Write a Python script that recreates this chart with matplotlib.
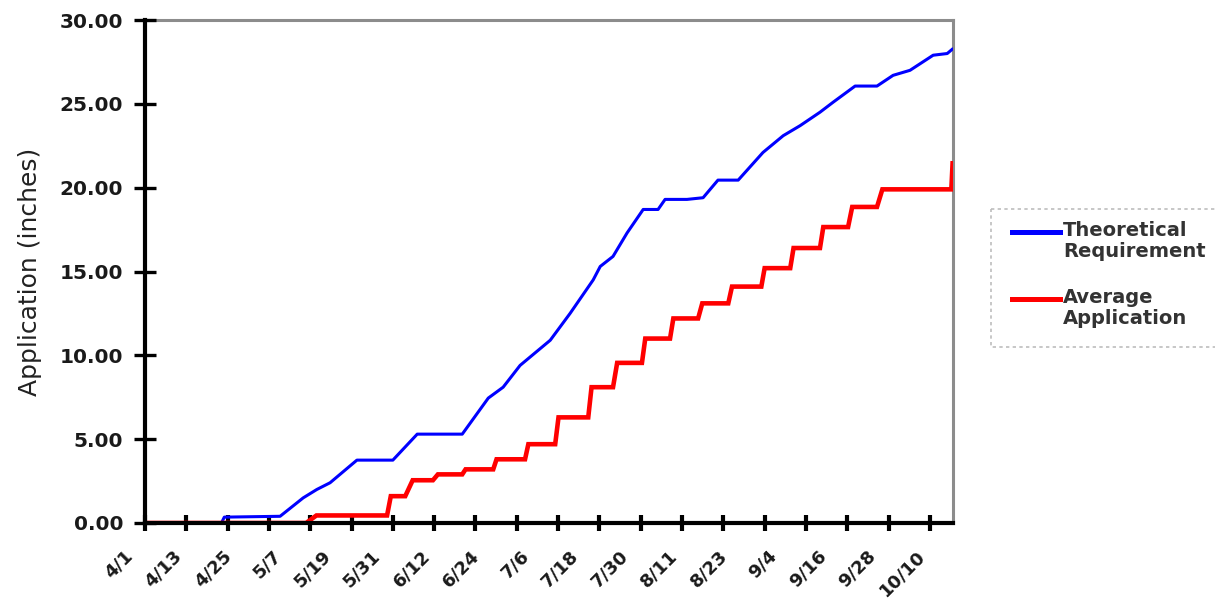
import matplotlib
matplotlib.use('Agg')
import matplotlib.pyplot as plt
import matplotlib.transforms as mtransforms
from matplotlib.lines import Line2D
from matplotlib.patches import Rectangle

# days counted from 4/1
req_day = [0, 18.5, 19.2, 32.7, 38.3, 41.6, 44.8, 51.3, 60, 65.9,
           76.8, 83.1, 86.7, 90.8, 98.1, 102.9, 108.5, 110.2, 113.3, 116.7,
           120.6, 124.2, 125.9, 131.2, 135.1, 138.7, 143.6, 149.6, 154.5, 158.6,
           163.4, 166.6, 171.9, 177.2, 181.1, 185.2, 190.8, 194.2, 195.4]
req_val = [0, 0, 0.35, 0.4, 1.5, 2.0, 2.4, 3.75, 3.75, 5.3,
           5.3, 7.45, 8.1, 9.4, 10.9, 12.5, 14.5, 15.3, 15.9, 17.3,
           18.7, 18.7, 19.3, 19.3, 19.4, 20.45, 20.45, 22.1, 23.1, 23.7,
           24.5, 25.1, 26.06, 26.06, 26.7, 27.0, 27.9, 28.0, 28.25]

app_day = [0, 39, 41.5, 58.6, 59.5, 63, 64.8, 69.7, 70.9, 76.8,
           77.6, 84.3, 85.1, 92, 92.8, 99.3, 100.1, 107.3, 108.1, 113.3,
           114.3, 120.3, 121.1, 127.1, 127.9, 133.9, 134.9, 141.2, 142.1, 149.2,
           150, 156.2, 157, 163.4, 164.2, 170.2, 171.2, 177.2, 178.5, 195.2,
           195.5]
app_val = [0, 0, 0.45, 0.45, 1.6, 1.6, 2.55, 2.55, 2.9, 2.9,
           3.2, 3.2, 3.8, 3.8, 4.7, 4.7, 6.3, 6.3, 8.1, 8.1,
           9.55, 9.55, 11.0, 11.0, 12.2, 12.2, 13.1, 13.1, 14.1, 14.1,
           15.2, 15.2, 16.4, 16.4, 17.65, 17.65, 18.85, 18.85, 19.9, 19.9,
           21.45]

date_labels = ['4/1', '4/13', '4/25', '5/7', '5/19', '5/31', '6/12', '6/24',
               '7/6', '7/18', '7/30', '8/11', '8/23', '9/4', '9/16', '9/28',
               '10/10']
label_step = 12
tick_step = 10
y_ticks = [0, 5, 10, 15, 20, 25, 30]

fig = plt.figure(figsize=(12.15, 5.98), dpi=100)
ax = fig.add_axes([145 / 1215, 75 / 598, 808 / 1215, 503 / 598])

ax.plot(req_day, req_val, color='#0000ff', lw=2.2, solid_joinstyle='round')
ax.plot(app_day, app_val, color='#ff0000', lw=3.3, solid_joinstyle='miter')

ax.set_xlim(0, 195.6)
ax.set_ylim(0, 30)

# major ticks every 10 days (no labels), labels every 12 days
ax.xaxis.remove_overlapping_locs = False
ax.set_xticks([i * tick_step for i in range(20)])
ax.set_xticklabels([])
ax.set_xticks([i * label_step for i in range(len(date_labels))], minor=True)
ax.set_xticklabels(date_labels, minor=True, rotation=45, ha='right', va='top',
                   fontsize=13, fontweight='bold', color='#1a1a1a')
ax.tick_params(axis='x', which='major', direction='inout', length=11.5, width=3)
ax.tick_params(axis='x', which='minor', length=0, pad=17)
off = mtransforms.ScaledTranslation(-9 / 100, 0, fig.dpi_scale_trans)
for lab in ax.get_xticklabels(minor=True):
    lab.set_transform(lab.get_transform() + off)

ax.set_yticks(y_ticks)
ax.set_yticklabels([f'{v:.2f}' for v in y_ticks], fontsize=14.5,
                   fontweight='bold', color='#1a1a1a')
ax.tick_params(axis='y', direction='inout', length=15.5, width=2.4, pad=8)

ax.set_ylabel('Application (inches)', fontsize=18, color='#222222')
ax.yaxis.set_label_coords(-0.128, 0.5)

for side in ['left', 'bottom']:
    ax.spines[side].set_linewidth(3)
    ax.spines[side].set_color('black')
for side in ['top', 'right']:
    ax.spines[side].set_linewidth(2.2)
    ax.spines[side].set_color('#8c8c8c')
    ax.spines[side].set_zorder(0.5)

# legend drawn by hand, in figure pixels (handle on first text line)
px = mtransforms.Affine2D().scale(1 / 1215, -1 / 598).translate(0, 1) + fig.transFigure
fig.add_artist(Rectangle((991, 209), 240, 138, transform=px, fill=False,
                         edgecolor='#bdbdbd', lw=1.2, linestyle=(0, (2, 2))))
legend_items = [('Theoretical\nRequirement', '#0000ff', 232),
                ('Average\nApplication', '#ff0000', 299)]
for text, col, yy in legend_items:
    fig.add_artist(Line2D([1012, 1060], [yy, yy], transform=px, color=col, lw=3.6))
    fig.text(1063 / 1215, 1 - (yy - 11) / 598, text, fontsize=14, fontweight='bold',
             color='#333333', ha='left', va='top', linespacing=1.12)

fig.savefig('out.png', dpi=100)
